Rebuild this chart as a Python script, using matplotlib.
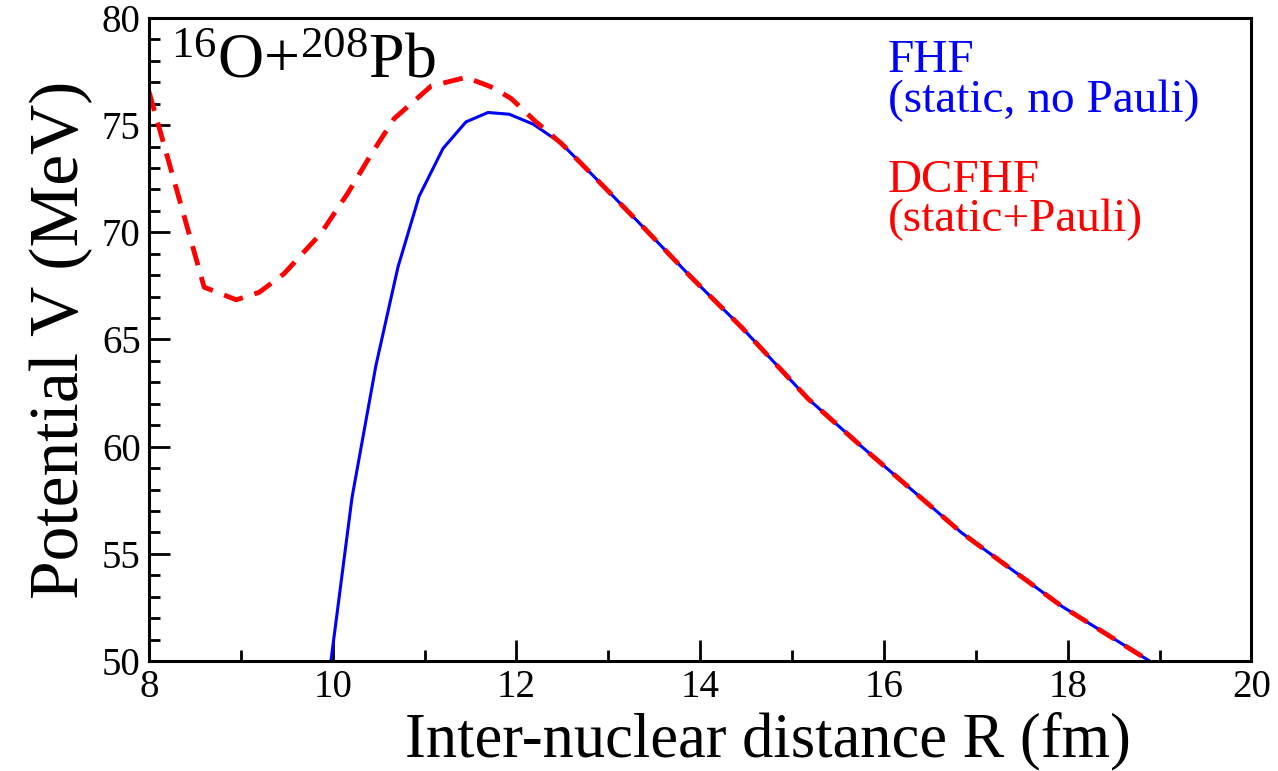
import matplotlib
matplotlib.use('Agg')
import matplotlib.pyplot as plt
from matplotlib.ticker import MultipleLocator

plt.rcParams['font.family'] = ['Liberation Serif', 'DejaVu Serif']
plt.rcParams['mathtext.fontset'] = 'custom'
plt.rcParams['mathtext.rm'] = 'Liberation Serif'
plt.rcParams['mathtext.it'] = 'Liberation Serif:italic'

# FHF (static, no Pauli) - inner part
fhf_r = [9.95, 10.21, 10.47, 10.71, 10.94, 11.20, 11.45, 11.69, 11.92, 12.18, 12.49]
fhf_v = [49.0, 57.63, 63.79, 68.38, 71.68, 73.91, 75.15, 75.59, 75.51, 75.05, 74.14]

# DCFHF (static+Pauli) - inner part
dc_r = [8.0, 8.3, 8.6, 8.95, 9.2, 9.47, 9.87, 10.16, 10.42, 10.67, 11.07, 11.45, 11.72, 11.94, 12.2, 12.49]
dc_v = [76.56, 72.0, 67.44, 66.85, 67.2, 68.07, 69.94, 71.8, 73.65, 75.31, 76.82, 77.23, 76.79, 76.25, 75.2, 74.14]

# common tail (both curves coincide)
tail_r = [12.81, 13.36, 13.9, 14.45, 15.17, 15.75, 16.84, 17.93, 18.89, 19.0]
tail_v = [72.75, 70.33, 67.91, 65.57, 62.25, 60.03, 56.0, 52.57, 50.0, 49.72]

fig = plt.figure(figsize=(12.78, 7.71), dpi=100)
ax = fig.add_axes([0.1166, 0.1427, 0.8626, 0.8340])

ax.plot(fhf_r + tail_r, fhf_v + tail_v, color='#0000ff', lw=2.2)
ax.plot(dc_r + tail_r, dc_v + tail_v, color='#ff0000', lw=3.5, dashes=(4.1, 2.5))

ax.set_xlim(8, 20)
ax.set_ylim(50, 80)
ax.xaxis.set_major_locator(MultipleLocator(2))
ax.xaxis.set_minor_locator(MultipleLocator(1))
ax.yaxis.set_major_locator(MultipleLocator(5))
ax.yaxis.set_minor_locator(MultipleLocator(1))
ax.tick_params(which='both', direction='in', top=False, right=False, width=2, labelsize=28, pad=6)
ax.tick_params(which='major', length=15)
ax.tick_params(which='minor', length=8)
for s in ax.spines.values():
    s.set_linewidth(2.2)

ax.set_xlabel('Inter-nuclear distance R (fm)', fontsize=45, labelpad=4)
ax.xaxis.label.set_x(0.5617)
ax.set_ylabel('Potential V (MeV)', fontsize=50, labelpad=6)

ax.text(0.02, 0.907, r'$^{16}$O+$^{208}$Pb', transform=ax.transAxes, fontsize=46, va='baseline')
ax.text(0.670, 0.9165, 'FHF', transform=ax.transAxes, fontsize=34, color='#0000ff', va='baseline')
ax.text(0.670, 0.854, '(static, no Pauli)', transform=ax.transAxes, fontsize=34, color='#0000ff', va='baseline')
ax.text(0.670, 0.730, 'DCFHF', transform=ax.transAxes, fontsize=34, color='#ff0000', va='baseline')
ax.text(0.670, 0.668, '(static+Pauli)', transform=ax.transAxes, fontsize=34, color='#ff0000', va='baseline')

fig.savefig('out.png', dpi=100)
